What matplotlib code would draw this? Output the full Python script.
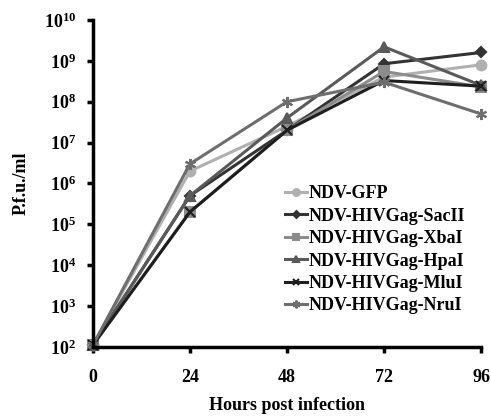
import numpy as np
import matplotlib.pyplot as plt

# Data
hours = [0, 24, 48, 72, 96]
labels = [
    "NDV-GFP",
    "NDV-HIVGag-SacII",
    "NDV-HIVGag-XbaI",
    "NDV-HIVGag-HpaI",
    "NDV-HIVGag-MluI",
    "NDV-HIVGag-NruI",
]
gfp = [1.1e2, 2.0e6, 2.5e7, 4.0e8, 8.0e8]
sacii = [1.1e2, 5.0e5, 2.0e7, 8.5e8, 1.6e9]
xbai = [1.1e2, 2.0e5, 2.0e7, 5.5e8, 2.3e8]
hpai = [1.1e2, 5.0e5, 4.0e7, 2.2e9, 2.5e8]
mlui = [1.1e2, 2.0e5, 2.0e7, 3.3e8, 2.4e8]
nrui = [1.1e2, 3.0e6, 1.0e8, 3.0e8, 5.0e7]
series = [gfp, sacii, xbai, hpai, mlui, nrui]

colors = ["#b0b0b0", "#333333", "#8c8c8c", "#5a5a5a", "#1e1e1e", "#6e6e6e"]
markers = ["o", "D", "s", "^", "x", (6, 2, 0)]
msizes = [7, 5, 7, 7, 7, 8]

plt.rcParams["font.family"] = ["Liberation Serif", "DejaVu Serif"]
plt.rcParams["font.weight"] = "bold"

fig = plt.figure(figsize=(4.91, 4.16), dpi=100)
ax = fig.add_axes([0.189, 0.166, 0.791, 0.786])

for name, vals, c, m, ms in zip(labels, series, colors, markers, msizes):
    ax.plot(hours, vals, color=c, marker=m, markersize=ms, linewidth=2.2,
            markeredgecolor=c, markeredgewidth=1.5, label=name, clip_on=False)

ax.set_yscale("log")
ax.set_ylim(1e2, 1e10)
ax.set_xlim(0, 96)
ax.set_xticks(hours)
ax.set_yticks([10.0 ** k for k in range(2, 11)])
ax.minorticks_off()
ax.tick_params(axis="both", labelsize=13, width=2.5, length=4, direction="out")
ax.tick_params(axis="x", pad=12)
ax.tick_params(axis="y", pad=8)
for lab in ax.get_xticklabels() + ax.get_yticklabels():
    lab.set_fontweight("bold")

for s in ["top", "right"]:
    ax.spines[s].set_visible(False)
for s in ["left", "bottom"]:
    ax.spines[s].set_linewidth(2.5)

ax.set_ylabel("P.f.u./ml", fontsize=13, fontweight="bold", labelpad=10)
ax.set_xlabel("Hours post infection", fontsize=13, fontweight="bold", labelpad=8)

ax.legend(loc="lower right", bbox_to_anchor=(1.0, 0.05), frameon=False,
          handlelength=1.2, handletextpad=0.1, labelspacing=0.3,
          markerscale=0.7, prop={"weight": "bold", "size": 13})

fig.savefig("out.png", dpi=100)
